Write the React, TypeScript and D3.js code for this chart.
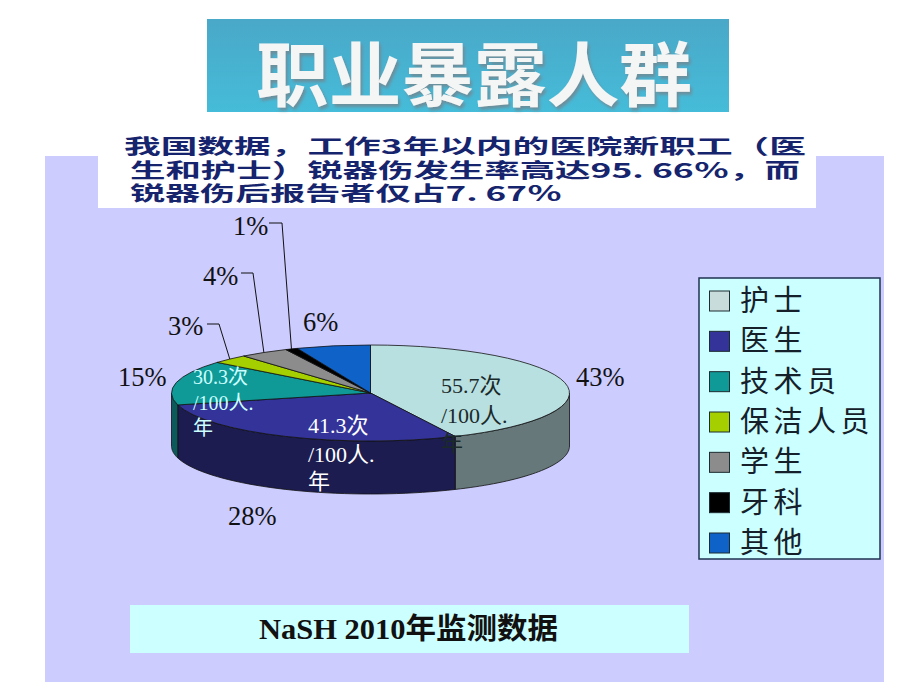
import React from 'react';
import * as d3 from 'd3';

// chart data
const categories = ['护士', '医生', '技术员', '保洁人员', '学生', '牙科', '其他'];
const shares = [43, 28, 15, 3, 4, 1, 6];
const topColors = ['#b9e0e0', '#333399', '#0f9a97', '#a6cf00', '#8c8c8c', '#000000', '#0f62c8'];
const sideColors = ['#66787a', '#1c1c50', '#0c5a5a', '#5d7400', '#4e4e4e', '#000000', '#083670'];
const legendColors = ['#c8dcdc', '#333399', '#0f9a97', '#a6cf00', '#8c8c8c', '#000000', '#0f62c8'];
const subtitleLines = ['我国数据，工作3年以内的医院新职工（医', '生和护士）锐器伤发生率高达95. 66％，而', '锐器伤后报告者仅占7. 67％'];

const cx = 370.5;
const cy = 393;
const rx = 199;
const ry = 48;
const depth = 53;

const serif = '"Liberation Serif", "Noto Sans CJK SC", serif';
const cjk = '"Noto Sans CJK SC", sans-serif';

const pieData = d3.pie<number>().sort(null)(shares);
const unitArc = d3.arc<d3.PieArcDatum<number>>().innerRadius(0).outerRadius(100);

const edge = (a: number, dy = 0): [number, number] => [cx + rx * Math.sin(a), cy + dy - ry * Math.cos(a)];
const lineGen = d3.line();

// front wall of a slice, only the part between 90 and 270 degrees shows
function sidePath(a0: number, a1: number) {
  const from = Math.max(a0, Math.PI / 2);
  const to = Math.min(a1, (Math.PI * 3) / 2);
  if (to <= from) return null;
  const angles = d3.range(0, 41).map((i) => from + ((to - from) * i) / 40);
  const pts = [...angles.map((a) => edge(a)), ...angles.slice().reverse().map((a) => edge(a, depth))];
  return lineGen(pts) + 'Z';
}

const midAngle = (i: number) => (pieData[i].startAngle + pieData[i].endAngle) / 2;

// labels that sit next to the pie
const plainLabels = [
  { i: 0, x: 576, y: 386 },
  { i: 2, x: 118, y: 386 },
  { i: 1, x: 228, y: 525 },
  { i: 6, x: 303, y: 331 },
];
// labels with a leader line
const leaderLabels = [
  { i: 5, x: 233, y: 235, x1: 269, x2: 282, ly: 223 },
  { i: 4, x: 203, y: 285, x1: 241, x2: 253, ly: 273 },
  { i: 3, x: 168, y: 335, x1: 207, x2: 219, ly: 324 },
];
const rateLabels = [
  { lines: ['55.7次', '/100人.', '年'], x: 441, ys: [393, 423, 451], fill: '#1a2a2a', size: 22 },
  { lines: ['41.3次', '/100人.', '年'], x: 308, ys: [433, 462, 489], fill: '#ffffff', size: 22 },
  { lines: ['30.3次', '/100人.', '年'], x: 193, ys: [384, 410, 435], fill: '#ccffff', size: 20 },
];

const legendY = d3.scalePoint<string>().domain(categories).range([301, 543]);

export default function App() {
  return (
    <svg width={920} height={690} style={{ position: 'absolute', left: 0, top: 0, background: '#fff' }}>
      <defs>
        <linearGradient id="titleFill" x1="0" y1="0" x2="0" y2="1">
          <stop offset="0" stopColor="#4aa8c8" />
          <stop offset="1" stopColor="#45bcd9" />
        </linearGradient>
        <filter id="titleShadow" x="-5%" y="-10%" width="110%" height="125%">
          <feDropShadow dx="2" dy="3" stdDeviation="1.5" floodColor="#6a8f9c" />
        </filter>
      </defs>

      <rect x={45} y={156} width={839} height={526} fill="#ccccff" />

      <rect x={207} y={19} width={522} height={93} fill="url(#titleFill)" />
      <text x={256} y={101} fontFamily={cjk} fontWeight={700} fontSize={70} fill="#f4f6f6" textLength={436} lengthAdjust="spacingAndGlyphs" filter="url(#titleShadow)">
        职业暴露人群
      </text>

      <rect x={98} y={132} width={718} height={76} fill="#fff" />
      <g fontFamily={cjk} fontWeight={700} fontSize={20} fill="#16246e">
        <text x={124} y={154} textLength={682} lengthAdjust="spacingAndGlyphs">{subtitleLines[0]}</text>
        <text x={130} y={178} textLength={670} lengthAdjust="spacingAndGlyphs">{subtitleLines[1]}</text>
        <text x={130} y={201} textLength={432} lengthAdjust="spacingAndGlyphs">{subtitleLines[2]}</text>
      </g>

      {/* pie walls */}
      {pieData.map((d, i) => {
        const p = sidePath(d.startAngle, d.endAngle);
        return p ? <path key={i} d={p} fill={sideColors[i]} stroke="#111" strokeWidth={0.8} /> : null;
      })}
      {/* pie top */}
      <g transform={`translate(${cx},${cy}) scale(${rx / 100},${ry / 100})`}>
        {pieData.map((d, i) => (
          <path key={i} d={unitArc(d) as string} fill={topColors[i]} stroke="#111" strokeWidth={0.8} vectorEffect="non-scaling-stroke" />
        ))}
      </g>

      {rateLabels.map((r, k) => (
        <g key={k} fontFamily={serif} fontSize={r.size} fill={r.fill}>
          {r.lines.map((t, j) => (
            <text key={j} x={r.x} y={r.ys[j]}>{t}</text>
          ))}
        </g>
      ))}

      <g fontFamily={serif} fontSize={26.5} fill="#111">
        {plainLabels.map((l) => (
          <text key={l.i} x={l.x} y={l.y}>{shares[l.i]}%</text>
        ))}
        {leaderLabels.map((l) => {
          const [ex, ey] = edge(midAngle(l.i));
          return (
            <g key={l.i}>
              <text x={l.x} y={l.y}>{shares[l.i]}%</text>
              <polyline points={`${l.x1},${l.ly} ${l.x2},${l.ly} ${ex},${ey}`} fill="none" stroke="#111" strokeWidth={1} />
            </g>
          );
        })}
      </g>

      {/* legend */}
      <rect x={699} y={278} width={181} height={281} fill="#ccffff" stroke="#1f3350" strokeWidth={1.5} />
      {categories.map((c, i) => {
        const y = legendY(c) as number;
        return (
          <g key={c}>
            <rect x={709.5} y={y - 10} width={20} height={20} fill={legendColors[i]} stroke="#1c2c30" strokeWidth={1} />
            <text x={740} y={y + 10} fontFamily={cjk} fontSize={29} letterSpacing={4.5} fill="#15202a">{c}</text>
          </g>
        );
      })}

      {/* source box */}
      <rect x={130} y={605} width={559} height={48} fill="#ccffff" />
      <text x={259} y={639} fontFamily={serif} fontWeight={700} fontSize={29} fill="#111" textLength={299} lengthAdjust="spacingAndGlyphs">
        NaSH 2010年监测数据
      </text>
    </svg>
  );
}
